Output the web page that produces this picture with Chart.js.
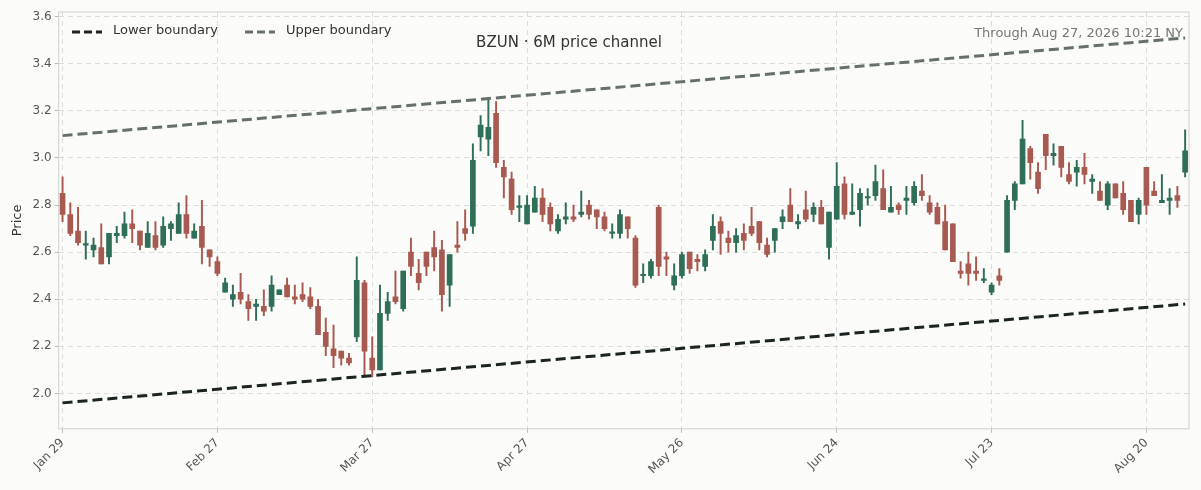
<!DOCTYPE html>
<html><head><meta charset="utf-8">
<script src="https://cdn.jsdelivr.net/npm/chart.js@4"></script>
<style>html,body{margin:0;padding:0;background:#fbfbf9}#w{width:1201px;height:490px}</style>
</head><body><div id="w"><canvas id="c"></canvas></div>
<script>
const openV=[2.85,2.76,2.69,2.63,2.61,2.62,2.58,2.67,2.67,2.72,2.69,2.62,2.67,2.63,2.70,2.68,2.76,2.66,2.71,2.61,
2.56,2.43,2.40,2.43,2.39,2.37,2.37,2.37,2.42,2.46,2.41,2.42,2.41,2.37,2.26,2.19,2.18,2.15,2.24,2.47,
2.15,2.10,2.34,2.41,2.36,2.60,2.51,2.60,2.62,2.61,2.46,2.63,2.70,2.71,3.09,3.08,3.19,2.96,2.91,2.79,
2.72,2.77,2.83,2.79,2.69,2.74,2.75,2.76,2.80,2.78,2.75,2.68,2.68,2.75,2.66,2.50,2.50,2.79,2.58,2.46,
2.50,2.60,2.57,2.54,2.65,2.73,2.66,2.64,2.68,2.71,2.73,2.63,2.65,2.73,2.80,2.72,2.78,2.76,2.79,2.62,
2.74,2.89,2.76,2.78,2.83,2.84,2.87,2.77,2.80,2.82,2.81,2.86,2.81,2.79,2.73,2.72,2.52,2.55,2.52,2.48,
2.43,2.50,2.60,2.82,2.89,3.04,2.94,3.10,3.01,3.05,2.93,2.94,2.96,2.90,2.86,2.80,2.89,2.85,2.82,2.76,
2.96,2.86,2.81,2.82,2.84,2.94];
const highV=[2.92,2.81,2.79,2.69,2.66,2.72,2.68,2.71,2.77,2.78,2.69,2.73,2.73,2.75,2.73,2.81,2.84,2.72,2.82,2.61,
2.58,2.49,2.46,2.51,2.42,2.40,2.44,2.50,2.44,2.49,2.46,2.47,2.45,2.40,2.32,2.29,2.18,2.17,2.58,2.48,
2.24,2.46,2.43,2.52,2.52,2.66,2.57,2.60,2.69,2.65,2.59,2.73,2.78,3.06,3.18,3.25,3.24,2.99,2.94,2.84,
2.84,2.88,2.87,2.81,2.76,2.81,2.80,2.86,2.82,2.78,2.77,2.72,2.78,2.75,2.67,2.55,2.57,2.80,2.60,2.55,
2.60,2.60,2.59,2.61,2.76,2.75,2.69,2.70,2.72,2.79,2.73,2.66,2.70,2.78,2.87,2.76,2.86,2.81,2.82,2.77,
2.98,2.92,2.89,2.87,2.87,2.97,2.95,2.88,2.81,2.88,2.90,2.93,2.84,2.81,2.80,2.72,2.56,2.60,2.58,2.53,
2.47,2.53,2.84,2.90,3.16,3.05,2.98,3.10,3.06,3.05,2.98,2.99,3.02,2.93,2.90,2.90,2.89,2.90,2.82,2.83,
2.96,2.90,2.93,2.87,2.88,3.12];
const lowV=[2.73,2.67,2.63,2.57,2.58,2.55,2.55,2.64,2.66,2.64,2.61,2.62,2.61,2.62,2.65,2.68,2.66,2.66,2.55,2.54,
2.50,2.43,2.37,2.38,2.31,2.31,2.33,2.35,2.42,2.41,2.38,2.39,2.36,2.25,2.16,2.11,2.12,2.12,2.22,2.07,
2.07,2.10,2.31,2.38,2.35,2.50,2.44,2.50,2.52,2.35,2.37,2.60,2.65,2.68,3.03,3.01,2.96,2.83,2.76,2.73,
2.72,2.77,2.73,2.69,2.68,2.72,2.73,2.75,2.74,2.70,2.69,2.66,2.66,2.66,2.45,2.47,2.49,2.50,2.50,2.44,
2.49,2.51,2.52,2.52,2.61,2.59,2.60,2.60,2.61,2.67,2.61,2.58,2.60,2.70,2.73,2.70,2.73,2.73,2.72,2.57,
2.74,2.74,2.76,2.71,2.80,2.82,2.78,2.77,2.76,2.76,2.80,2.82,2.76,2.72,2.61,2.56,2.49,2.46,2.48,2.47,
2.42,2.46,2.60,2.78,2.89,2.91,2.85,2.95,2.97,2.92,2.89,2.88,2.89,2.85,2.82,2.78,2.83,2.76,2.73,2.72,
2.76,2.84,2.81,2.76,2.79,2.92];
const closeV=[2.76,2.68,2.64,2.63,2.63,2.55,2.68,2.68,2.72,2.70,2.63,2.68,2.62,2.71,2.72,2.76,2.68,2.69,2.62,2.58,
2.51,2.47,2.42,2.40,2.36,2.38,2.35,2.46,2.44,2.41,2.40,2.40,2.37,2.25,2.20,2.16,2.15,2.13,2.48,2.18,
2.10,2.34,2.39,2.39,2.52,2.54,2.47,2.54,2.58,2.42,2.59,2.62,2.68,2.99,3.14,3.13,2.98,2.92,2.78,2.79,
2.80,2.83,2.76,2.72,2.74,2.75,2.74,2.77,2.76,2.75,2.70,2.68,2.76,2.70,2.46,2.50,2.56,2.54,2.57,2.50,
2.59,2.53,2.56,2.59,2.71,2.68,2.64,2.67,2.65,2.68,2.64,2.59,2.70,2.75,2.73,2.73,2.74,2.79,2.72,2.77,
2.88,2.76,2.77,2.85,2.83,2.90,2.78,2.79,2.78,2.83,2.88,2.84,2.77,2.72,2.61,2.56,2.51,2.51,2.51,2.48,
2.46,2.48,2.82,2.89,3.08,2.98,2.87,3.01,3.02,2.96,2.90,2.96,2.93,2.91,2.82,2.89,2.83,2.78,2.73,2.82,
2.80,2.84,2.82,2.83,2.82,3.03];
const lowerBoundary=[1.96,2.38];
const upperBoundary=[3.095,3.51];
const holidays=['2026-02-16','2026-04-03','2026-05-25','2026-06-19','2026-07-03'];
const mon=['Jan','Feb','Mar','Apr','May','Jun','Jul','Aug','Sep'];
const labels=[];
{let d=new Date(Date.UTC(2026,0,29));
 while(labels.length<openV.length){const w=d.getUTCDay();const iso=d.toISOString().slice(0,10);
  if(w!==0&&w!==6&&!holidays.includes(iso)) labels.push(mon[d.getUTCMonth()]+' '+d.getUTCDate());
  d.setUTCDate(d.getUTCDate()+1);}}
const N=labels.length;
const G='#2f6f58',R='#a85a50';
const cols=openV.map((o,i)=>closeV[i]>=o?G:R);
const bgPlugin={id:'bg',beforeDraw(c){const x=c.ctx;x.save();x.fillStyle='#fbfbf9';x.fillRect(0,0,c.width,c.height);x.restore();},
 afterDraw(c){const x=c.ctx,a=c.chartArea;x.save();
  x.strokeStyle='#d0d0d0';x.lineWidth=1;x.strokeRect(a.left,a.top,a.right-a.left,a.bottom-a.top);
  x.font='15px "DejaVu Sans"';x.fillStyle='#333';x.textAlign='center';x.textBaseline='middle';
  x.fillText('BZUN · 6M price channel',569,43);
  x.font='13px "DejaVu Sans"';x.fillStyle='#777';x.textAlign='right';x.fillText('Through Aug 27, 2026 10:21 NY',a.right-6,34);
  x.textAlign='left';x.fillStyle='#333';x.font='13px "DejaVu Sans"';x.lineWidth=3;
  x.setLineDash([8,4]);x.strokeStyle='#1b2420';x.beginPath();x.moveTo(72,32);x.lineTo(102,32);x.stroke();
  x.fillText('Lower boundary',113,31);
  x.strokeStyle='#66706a';x.beginPath();x.moveTo(245,32);x.lineTo(275,32);x.stroke();
  x.fillText('Upper boundary',286,31);
  x.restore();}};
new Chart(document.getElementById('c'),{
 type:'bar',
 data:{labels,datasets:[
  {type:'line',data:[{x:labels[0],y:lowerBoundary[0]},{x:labels[N-1],y:lowerBoundary[1]}],borderColor:'#1b2420',borderWidth:3,borderDash:[10,5],pointRadius:0,order:0},
  {type:'line',data:[{x:labels[0],y:upperBoundary[0]},{x:labels[N-1],y:upperBoundary[1]}],borderColor:'#66706a',borderWidth:3,borderDash:[10,5],pointRadius:0,order:0},
  {data:lowV.map((l,i)=>[l,highV[i]]),backgroundColor:cols,barThickness:1.3,grouped:false,order:2},
  {data:openV.map((o,i)=>[o,closeV[i]]),backgroundColor:cols,barThickness:5,minBarLength:1.5,grouped:false,order:1}
 ]},
 options:{responsive:true,maintainAspectRatio:false,animation:false,
  layout:{padding:{left:6,right:12,top:12,bottom:10}},
  plugins:{legend:{display:false},tooltip:{enabled:false}},
  scales:{
   x:{offset:true,grid:{offset:false,color:c=>c.index%20===0?'#dcdcdc':'rgba(0,0,0,0)',tickColor:c=>c.index%20===0?'#bbb':'rgba(0,0,0,0)',tickLength:4},border:{display:false,dash:[5,4]},
      ticks:{autoSkip:false,maxRotation:45,minRotation:45,color:'#555',font:{family:'DejaVu Sans',size:12},
        callback(v,i){return i%20===0?labels[v]:'';}}},
   y:{min:1.85,max:3.62,grid:{color:'#dcdcdc',tickLength:4,tickColor:'#bbb'},border:{display:false,dash:[5,4]},
      afterBuildTicks(s){s.ticks=[];for(let v=2.0;v<=3.61;v+=0.2)s.ticks.push({value:Math.round(v*10)/10});},
      ticks:{color:'#555',font:{family:'DejaVu Sans',size:12},callback:v=>v.toFixed(1)},
      title:{display:true,text:'Price',color:'#333',font:{family:'DejaVu Sans',size:13}}}
  }},
 plugins:[bgPlugin]
});
</script></body></html>
